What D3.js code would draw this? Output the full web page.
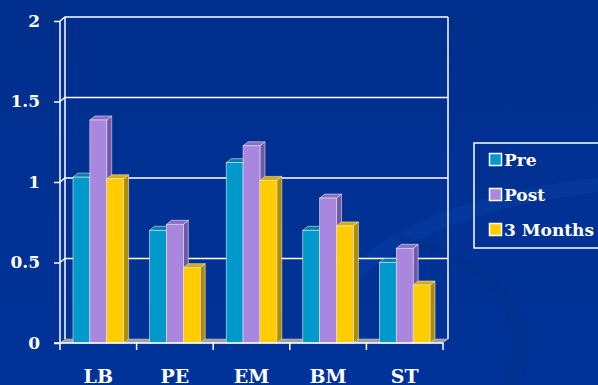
<!DOCTYPE html>
<html><head><meta charset="utf-8">
<script src="https://cdn.jsdelivr.net/npm/d3@7"></script>
<style>html,body{margin:0;padding:0;background:#003399;overflow:hidden}</style>
</head><body>
<svg id="chart" width="598" height="385"></svg>
<script>
const categories = ["LB", "PE", "EM", "BM", "ST"];
const seriesNames = ["Pre", "Post", "3 Months"];
const pre = [1.03, 0.70, 1.12, 0.70, 0.50];
const post = [1.385, 0.737, 1.225, 0.90, 0.588];
const threeMonths = [1.02, 0.468, 1.01, 0.727, 0.36];
const yTicks = [0, 0.5, 1, 1.5, 2];

const seriesValues = [pre, post, threeMonths];
const faceColors = ["#0099CC", "#A987DF", "#FFCC00"];
const sideColors = ["#00708F", "#7258A8", "#B08C00"];
const topColors = ["#0080AA", "#8C6CC4", "#D9AD00"];
const FONT = "'DejaVu Serif', 'Liberation Serif', serif";

const svg = d3.select("#chart");
const W = 598, H = 385;
const defs = svg.append("defs");
const grad = defs.append("linearGradient").attr("id","bg").attr("x1",0).attr("y1",0).attr("x2",0).attr("y2",1);
grad.append("stop").attr("offset","0%").attr("stop-color","#002E8C");
grad.append("stop").attr("offset","100%").attr("stop-color","#003399");
svg.append("rect").attr("width",W).attr("height",H).attr("fill","url(#bg)");

// decorative swooshes
svg.append("path").attr("d","M330,300 C360,230 480,190 598,178 L598,192 C490,205 380,240 345,300 Z")
  .attr("fill","#0a3ea6").attr("opacity",0.55);
svg.append("path").attr("d","M400,235 C470,250 560,300 520,385 L500,385 C540,310 470,262 400,240 Z")
  .attr("fill","#00308c").attr("opacity",0.6);

const x0 = 60, x1 = 443, dx = 5, dy = 4;
const x = d3.scaleBand().domain(categories).range([x0, x1]).padding(0);
const xs = d3.scaleBand().domain(seriesNames).range([13, x.bandwidth() - 13]).padding(0);
const y = d3.scaleLinear().domain([0, 2]).range([343, 21]);
const y0 = y(0);

// floor
svg.append("path")
  .attr("d", `M${x0},${y0} L${x0+dx},${y0-dy} L${x1+dx},${y0-dy} L${x1},${y0} Z`)
  .attr("fill","#a0a0a0").attr("stroke","#c8c8c8").attr("stroke-width",0.5);

// walls and gridlines
const wall = svg.append("g").attr("stroke","#ffffff").attr("stroke-width",1.5).attr("fill","none");
wall.append("line").attr("x1",x0).attr("x2",x0).attr("y1",y(2)).attr("y2",y0);
wall.append("line").attr("x1",x0+dx).attr("x2",x0+dx).attr("y1",y(2)-dy).attr("y2",y0-dy);
wall.append("line").attr("x1",x1+dx).attr("x2",x1+dx).attr("y1",y(2)-dy).attr("y2",y0-dy);
yTicks.filter(t => t > 0).forEach(t => {
  wall.append("path").attr("d", `M${x0},${y(t)} L${x0+dx},${y(t)-dy} L${x1+dx},${y(t)-dy}`);
});

// bars
const groups = svg.append("g").selectAll("g").data(categories).join("g")
  .attr("transform", d => `translate(${x(d)},0)`);
seriesNames.forEach((s, si) => {
  groups.each(function(c, ci) {
    const g = d3.select(this);
    const v = seriesValues[si][ci];
    const bx = xs(s), bw = xs.bandwidth(), yt = y(v);
    g.append("path")
      .attr("d", `M${bx+bw},${yt} L${bx+bw+dx},${yt-dy} L${bx+bw+dx},${y0-dy} L${bx+bw},${y0} Z`)
      .attr("fill", sideColors[si]).attr("stroke","#e8e8e8").attr("stroke-width",0.6);
    g.append("path")
      .attr("d", `M${bx},${yt} L${bx+dx},${yt-dy} L${bx+bw+dx},${yt-dy} L${bx+bw},${yt} Z`)
      .attr("fill", topColors[si]).attr("stroke","#e8e8e8").attr("stroke-width",0.6);
    g.append("rect").attr("x",bx).attr("y",yt).attr("width",bw).attr("height",y0-yt)
      .attr("fill", faceColors[si]).attr("stroke","#e8e8e8").attr("stroke-width",0.6);
  });
});

// left axis
const yAxis = svg.append("g").attr("transform",`translate(${x0},0)`)
  .call(d3.axisLeft(y).tickValues(yTicks).tickFormat(d3.format("")).tickSize(6).tickPadding(14));
yAxis.select(".domain").remove();
yAxis.selectAll("line").attr("stroke","#fff").attr("stroke-width",1.5);
yAxis.selectAll("text").attr("fill","#fff")
  .style("font-family",FONT).style("font-weight","bold").style("font-size","17px");

// bottom axis
svg.append("line").attr("x1",x0-6).attr("x2",x1).attr("y1",y0).attr("y2",y0)
  .attr("stroke","#fff").attr("stroke-width",1.5);
const bounds = categories.map(c => x(c)).concat([x1]);
svg.append("g").selectAll("line").data(bounds).join("line")
  .attr("x1",d=>d).attr("x2",d=>d).attr("y1",y0).attr("y2",y0+7)
  .attr("stroke","#fff").attr("stroke-width",1.5);
const xAxis = svg.append("g").attr("transform",`translate(0,${y0})`)
  .call(d3.axisBottom(x).tickSize(0).tickPadding(0));
xAxis.select(".domain").remove();
xAxis.selectAll("text").attr("fill","#fff").attr("y",39.5).attr("dy",0)
  .style("font-family",FONT).style("font-weight","bold").style("font-size","19px");

// legend
const lg = svg.append("g");
lg.append("rect").attr("x",474).attr("y",143).attr("width",130).attr("height",105)
  .attr("fill","none").attr("stroke","#fff").attr("stroke-width",1.5);
seriesNames.forEach((s, i) => {
  const cy = 160 + i * 35;
  lg.append("rect").attr("x",489.5).attr("y",cy-6.5).attr("width",12).attr("height",12)
    .attr("fill",faceColors[i]).attr("stroke","#fff").attr("stroke-width",1.5);
  lg.append("text").attr("x",504).attr("y",cy+6).text(s).attr("fill","#fff")
    .style("font-family",FONT).style("font-weight","bold").style("font-size","17px");
});
</script>
</body></html>
